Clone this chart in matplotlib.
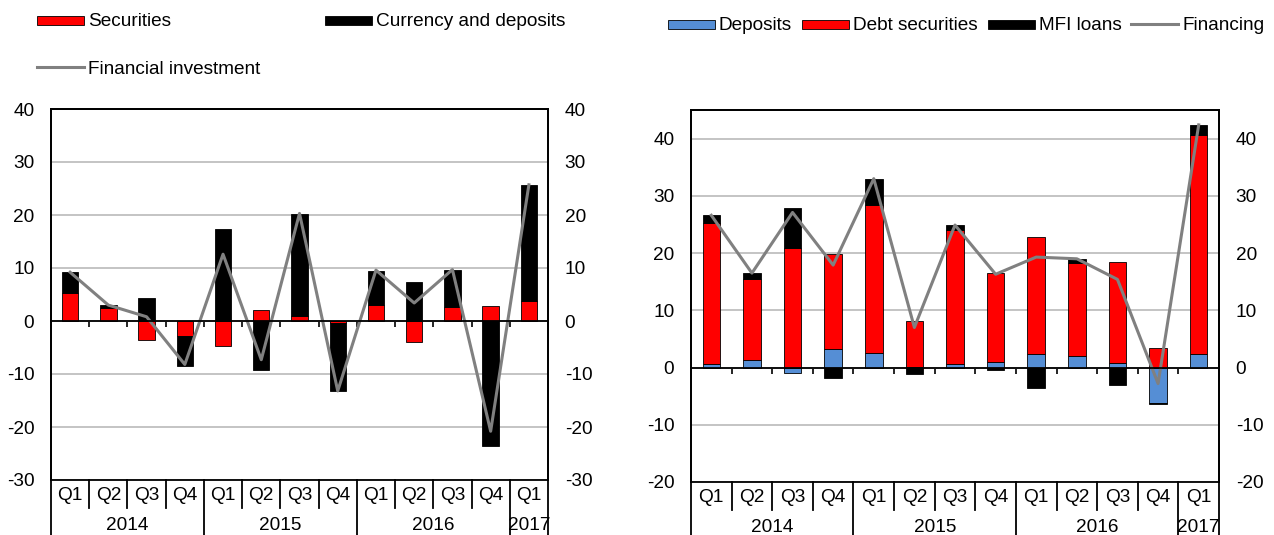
import numpy as np
import matplotlib
matplotlib.use("Agg")
import matplotlib.pyplot as plt
from matplotlib.patches import Rectangle
from matplotlib.lines import Line2D

plt.rcParams["font.family"] = ["Liberation Sans", "DejaVu Sans"]
plt.rcParams["font.size"] = 13.7
plt.rcParams["axes.unicode_minus"] = False

W, H = 1274, 535

quarters = ["Q1", "Q2", "Q3", "Q4"] * 3 + ["Q1"]
years = ["2014", "2015", "2016", "2017"]
year_counts = [4, 4, 4, 1]

# left panel
securities = [5.2, 2.5, -3.6, -2.8, -4.7, 2.0, 1.0, -0.3, 3.1, -3.9, 2.6, 2.8, 3.8]
currency = [4.0, 0.5, 4.3, -5.6, 17.3, -9.2, 19.2, -12.9, 6.3, 7.3, 7.0, -23.5, 21.9]
fin_invest = [9.2, 3.0, 0.8, -8.2, 12.6, -7.3, 20.3, -13.2, 9.6, 3.4, 9.7, -20.8, 25.7]

# right panel
deposits = [0.6, 1.3, -0.9, 3.3, 2.6, 0.1, 0.6, 1.0, 2.4, 2.0, 0.8, -6.2, 2.4]
debt_sec = [24.6, 14.1, 20.9, 16.5, 25.8, 8.1, 23.5, 15.5, 20.4, 16.2, 17.7, 3.5, 38.3]
mfi_loans = [1.4, 1.1, 7.0, -1.9, 4.6, -1.2, 0.8, -0.4, -3.6, 0.8, -3.1, -0.2, 1.6]
financing = [26.6, 16.5, 27.1, 17.9, 33.0, 7.0, 24.9, 16.3, 19.3, 19.0, 15.4, -2.8, 42.4]

RED = "#FF0000"
BLUE = "#558ED5"
GREY = "#808080"


def px_box(x0, x1, y_top, y_bot):
    return [x0 / W, 1 - y_bot / H, (x1 - x0) / W, (y_bot - y_top) / H]


def draw_panel(rect, series, colors, line, ylim, yticks):
    fig = plt.gcf()
    ax = fig.add_axes(rect)
    x = np.arange(len(quarters))

    pos = np.zeros(len(x))
    neg = np.zeros(len(x))
    for vals, c in zip(series, colors):
        v = np.array(vals, dtype=float)
        base = np.where(v >= 0, pos, neg)
        ax.bar(x, v, bottom=base, width=0.43, color=c, edgecolor="black",
               linewidth=0.6, zorder=3)
        pos += np.clip(v, 0, None)
        neg += np.clip(v, None, 0)

    ax.plot(x, line, color=GREY, linewidth=2.2, zorder=4)

    ax.set_xlim(-0.5, len(x) - 0.5)
    ax.set_ylim(*ylim)
    ax.set_yticks(yticks)
    ax.set_axisbelow(True)
    ax.yaxis.grid(True, color="#BFBFBF", linewidth=1.3)

    # category axis sits on zero
    ax.spines["bottom"].set_position(("data", 0))
    ax.spines["bottom"].set_zorder(5)
    for s in ax.spines.values():
        s.set_linewidth(1.3)
    ax.set_xticks(x[:-1] + 0.5)
    ax.tick_params(axis="x", direction="out", length=4, width=1.2, labelbottom=False)
    ax.tick_params(axis="y", length=0, pad=12)

    ax2 = ax.twinx()
    ax2.set_ylim(*ylim)
    ax2.set_yticks(yticks)
    ax2.tick_params(axis="y", length=0, pad=12)
    for s in ax2.spines.values():
        s.set_linewidth(1.3)

    # category labels below the plot
    h_px = rect[3] * H
    trans = ax.get_xaxis_transform()
    for i, q in enumerate(quarters):
        ax.text(i, -15 / h_px, q, transform=trans, ha="center", va="center", clip_on=False)
    edges = np.cumsum([0] + year_counts) - 0.5
    for k, yr in enumerate(years):
        mid = (edges[k] + edges[k + 1]) / 2
        ax.text(mid, -45 / h_px, yr, transform=trans, ha="center", va="center", clip_on=False)
    for b in np.arange(len(x) + 1) - 0.5:
        depth = 57 if b in edges else 28
        ax.plot([b, b], [0, -depth / h_px], transform=trans, color="black",
                linewidth=1.3, clip_on=False)
    return ax


fig = plt.figure(figsize=(W / 100, H / 100), dpi=100)

draw_panel(px_box(51, 548, 109, 480), [securities, currency], [RED, "black"],
           fin_invest, (-30, 40), np.arange(-30, 41, 10))
draw_panel(px_box(691, 1219, 110, 482), [deposits, debt_sec, mfi_loans],
           [BLUE, RED, "black"], financing, (-20, 45), np.arange(-20, 41, 10))


def legend_patch(x, y, color, label, w=47, h=9):
    fig.add_artist(Rectangle(((x) / W, 1 - (y + h / 2) / H), w / W, h / H,
                             transform=fig.transFigure, facecolor=color,
                             edgecolor="black", linewidth=0.6))
    fig.text((x + w + 4) / W, 1 - y / H, label, va="center_baseline", ha="left")


def legend_line(x, y, color, label, w=47):
    fig.add_artist(Line2D([x / W, (x + w) / W], [1 - y / H, 1 - y / H],
                          transform=fig.transFigure, color=color, linewidth=2.2))
    fig.text((x + w + 4) / W, 1 - y / H, label, va="center_baseline", ha="left")


legend_patch(37, 20, RED, "Securities")
legend_patch(325, 20, "black", "Currency and deposits")
legend_line(37, 67, GREY, "Financial investment")

legend_patch(668, 24, BLUE, "Deposits")
legend_patch(802, 24, RED, "Debt securities")
legend_patch(988, 24, "black", "MFI loans")
legend_line(1131, 24, GREY, "Financing")

fig.savefig("out.png", dpi=100)
